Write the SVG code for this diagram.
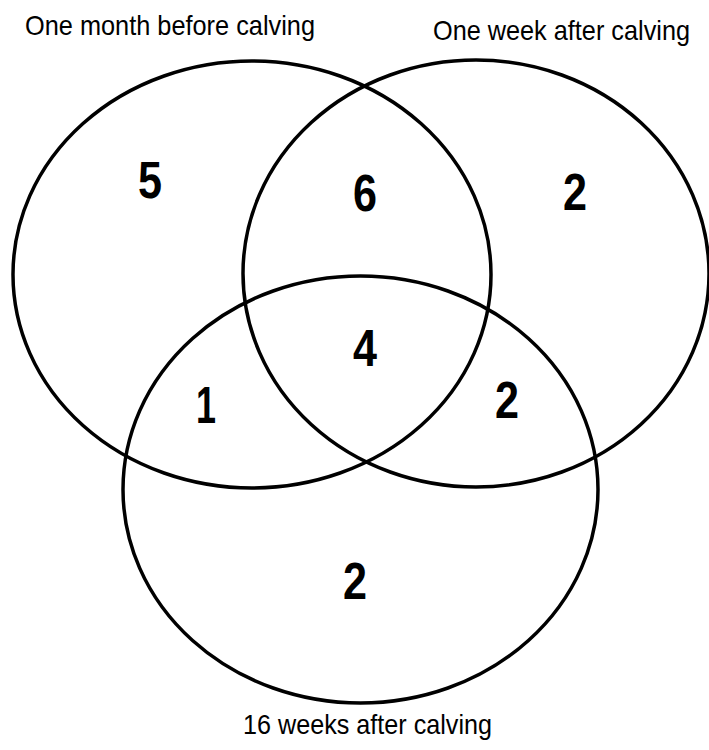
<svg xmlns="http://www.w3.org/2000/svg" width="709" height="750" viewBox="0 0 709 750">
<style>
.set{fill:none;stroke:#000;stroke-width:3.5}
.lbl{font-family:"Liberation Sans",Arial,sans-serif;font-size:28px;fill:#000}
.num{font-family:"Liberation Sans",Arial,sans-serif;font-size:51px;font-weight:bold;fill:#000;text-anchor:middle}
</style>
<rect width="709" height="750" fill="#fff"/>
<g id="set-before">
<ellipse class="set" cx="252" cy="274.5" rx="239" ry="213.5"/>
<text class="lbl" x="25" y="35" textLength="290" lengthAdjust="spacingAndGlyphs">One month before calving</text>
</g>
<g id="set-week">
<ellipse class="set" cx="476" cy="273.5" rx="233" ry="213.5"/>
<text class="lbl" x="433" y="40" textLength="257" lengthAdjust="spacingAndGlyphs">One week after calving</text>
</g>
<g id="set-16weeks">
<ellipse class="set" cx="360.5" cy="489.5" rx="237.5" ry="213.5"/>
<text class="lbl" x="243" y="734" textLength="249" lengthAdjust="spacingAndGlyphs">16 weeks after calving</text>
</g>
<g id="counts">
<text class="num" x="150" y="198" textLength="24" lengthAdjust="spacingAndGlyphs">5</text>
<text class="num" x="365" y="211" textLength="24" lengthAdjust="spacingAndGlyphs">6</text>
<text class="num" x="575" y="210" textLength="24" lengthAdjust="spacingAndGlyphs">2</text>
<text class="num" x="365" y="366" textLength="24" lengthAdjust="spacingAndGlyphs">4</text>
<text class="num" x="206" y="423" textLength="20" lengthAdjust="spacingAndGlyphs">1</text>
<text class="num" x="507" y="418" textLength="24" lengthAdjust="spacingAndGlyphs">2</text>
<text class="num" x="355" y="599" textLength="24" lengthAdjust="spacingAndGlyphs">2</text>
</g>
</svg>
